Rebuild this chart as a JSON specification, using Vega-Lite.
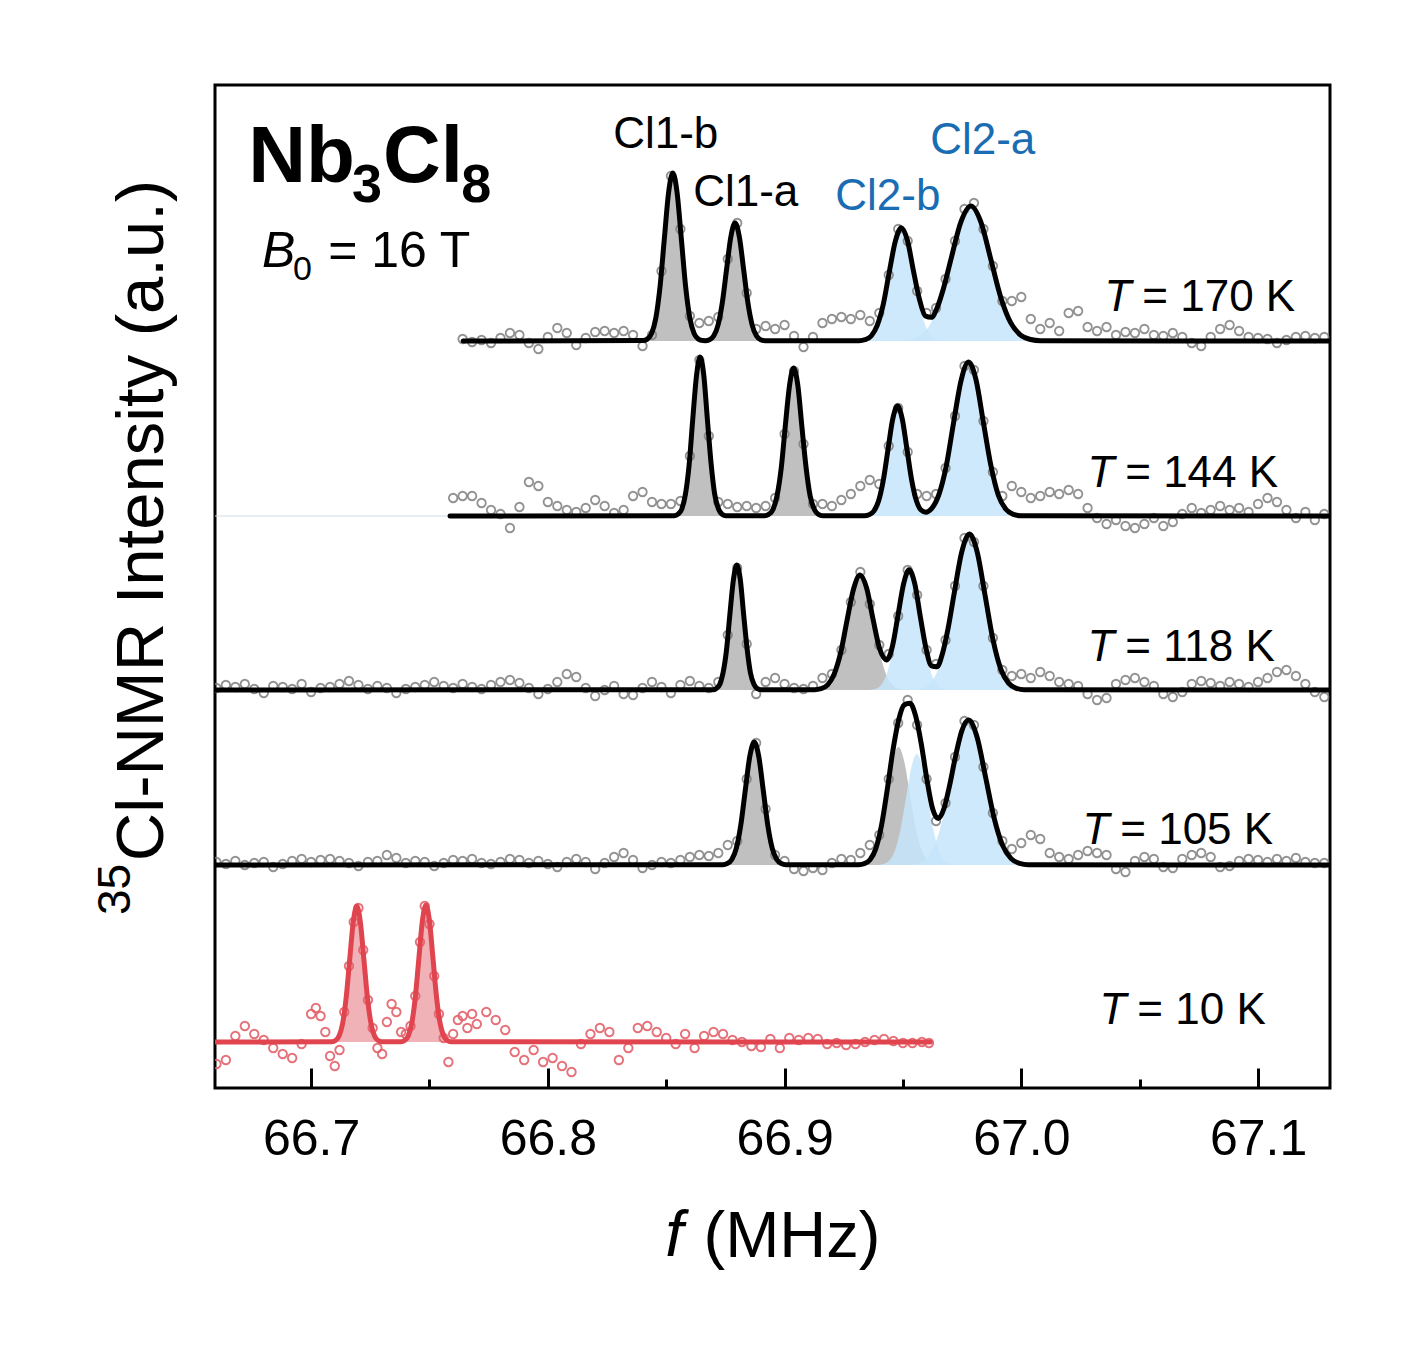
{
"$schema":"https://vega.github.io/schema/vega-lite/v6.json",
"width":1115,"height":1003,
"autosize":{"type":"none"},
"padding":{"left":215,"top":85,"right":87,"bottom":268},
"background":"white",
"config":{"view":{"stroke":"black","strokeWidth":3},"font":"Liberation Sans","axis":{"labelFont":"Liberation Sans","titleFont":"Liberation Sans"}},
"datasets":{
"comp":[
{"i":"170b1","k":"g","b":747,"f":66.8402,"y":747.4},{"i":"170b1","k":"g","b":747,"f":66.842,"y":748.9},{"i":"170b1","k":"g","b":747,"f":66.8438,"y":754.4},{"i":"170b1","k":"g","b":747,"f":66.8456,"y":769.7},{"i":"170b1","k":"g","b":747,"f":66.8474,"y":801.5},{"i":"170b1","k":"g","b":747,"f":66.8492,"y":848.9},{"i":"170b1","k":"g","b":747,"f":66.851,"y":895.3},{"i":"170b1","k":"g","b":747,"f":66.8528,"y":915},{"i":"170b1","k":"g","b":747,"f":66.8546,"y":895.3},{"i":"170b1","k":"g","b":747,"f":66.8564,"y":848.9},{"i":"170b1","k":"g","b":747,"f":66.8582,"y":801.5},{"i":"170b1","k":"g","b":747,"f":66.86,"y":769.7},{"i":"170b1","k":"g","b":747,"f":66.8618,"y":754.4},{"i":"170b1","k":"g","b":747,"f":66.8636,"y":748.9},{"i":"170b1","k":"g","b":747,"f":66.8654,"y":747.4},
{"i":"170a1","k":"g","b":747,"f":66.8665,"y":747.3},{"i":"170a1","k":"g","b":747,"f":66.8683,"y":748.3},{"i":"170a1","k":"g","b":747,"f":66.8701,"y":752.2},{"i":"170a1","k":"g","b":747,"f":66.8719,"y":763},{"i":"170a1","k":"g","b":747,"f":66.8737,"y":785.3},{"i":"170a1","k":"g","b":747,"f":66.8755,"y":818.6},{"i":"170a1","k":"g","b":747,"f":66.8773,"y":851.1},{"i":"170a1","k":"g","b":747,"f":66.8791,"y":865},{"i":"170a1","k":"g","b":747,"f":66.8809,"y":851.1},{"i":"170a1","k":"g","b":747,"f":66.8827,"y":818.6},{"i":"170a1","k":"g","b":747,"f":66.8845,"y":785.3},{"i":"170a1","k":"g","b":747,"f":66.8863,"y":763},{"i":"170a1","k":"g","b":747,"f":66.8881,"y":752.2},{"i":"170a1","k":"g","b":747,"f":66.8899,"y":748.3},{"i":"170a1","k":"g","b":747,"f":66.8917,"y":747.3},
{"i":"170b2","k":"b","b":747,"f":66.9315,"y":747.3},{"i":"170b2","k":"b","b":747,"f":66.934,"y":748.3},{"i":"170b2","k":"b","b":747,"f":66.9366,"y":752},{"i":"170b2","k":"b","b":747,"f":66.9391,"y":762.3},{"i":"170b2","k":"b","b":747,"f":66.9417,"y":783.7},{"i":"170b2","k":"b","b":747,"f":66.9442,"y":815.5},{"i":"170b2","k":"b","b":747,"f":66.9468,"y":846.7},{"i":"170b2","k":"b","b":747,"f":66.9493,"y":860},{"i":"170b2","k":"b","b":747,"f":66.9519,"y":846.7},{"i":"170b2","k":"b","b":747,"f":66.9544,"y":815.5},{"i":"170b2","k":"b","b":747,"f":66.957,"y":783.7},{"i":"170b2","k":"b","b":747,"f":66.9595,"y":762.3},{"i":"170b2","k":"b","b":747,"f":66.9621,"y":752},{"i":"170b2","k":"b","b":747,"f":66.9646,"y":748.3},{"i":"170b2","k":"b","b":747,"f":66.9672,"y":747.3},
{"i":"170a2","k":"b","b":747,"f":66.9493,"y":747.3},{"i":"170a2","k":"b","b":747,"f":66.9535,"y":748.5},{"i":"170a2","k":"b","b":747,"f":66.9577,"y":752.9},{"i":"170a2","k":"b","b":747,"f":66.9619,"y":765.3},{"i":"170a2","k":"b","b":747,"f":66.9661,"y":790.8},{"i":"170a2","k":"b","b":747,"f":66.9703,"y":828.9},{"i":"170a2","k":"b","b":747,"f":66.9745,"y":866.1},{"i":"170a2","k":"b","b":747,"f":66.9787,"y":882},{"i":"170a2","k":"b","b":747,"f":66.9829,"y":866.1},{"i":"170a2","k":"b","b":747,"f":66.9871,"y":828.9},{"i":"170a2","k":"b","b":747,"f":66.9913,"y":790.8},{"i":"170a2","k":"b","b":747,"f":66.9955,"y":765.3},{"i":"170a2","k":"b","b":747,"f":66.9997,"y":752.9},{"i":"170a2","k":"b","b":747,"f":67.0039,"y":748.5},{"i":"170a2","k":"b","b":747,"f":67.0081,"y":747.3},
{"i":"144b1","k":"g","b":572,"f":66.8535,"y":572.3},{"i":"144b1","k":"g","b":572,"f":66.855,"y":573.8},{"i":"144b1","k":"g","b":572,"f":66.8566,"y":579},{"i":"144b1","k":"g","b":572,"f":66.8581,"y":593.5},{"i":"144b1","k":"g","b":572,"f":66.8597,"y":623.6},{"i":"144b1","k":"g","b":572,"f":66.8612,"y":668.4},{"i":"144b1","k":"g","b":572,"f":66.8628,"y":712.3},{"i":"144b1","k":"g","b":572,"f":66.8643,"y":731},{"i":"144b1","k":"g","b":572,"f":66.8659,"y":712.3},{"i":"144b1","k":"g","b":572,"f":66.8674,"y":668.4},{"i":"144b1","k":"g","b":572,"f":66.869,"y":623.6},{"i":"144b1","k":"g","b":572,"f":66.8705,"y":593.5},{"i":"144b1","k":"g","b":572,"f":66.8721,"y":579},{"i":"144b1","k":"g","b":572,"f":66.8736,"y":573.8},{"i":"144b1","k":"g","b":572,"f":66.8752,"y":572.3},
{"i":"144a1","k":"g","b":572,"f":66.8916,"y":572.3},{"i":"144a1","k":"g","b":572,"f":66.8933,"y":573.6},{"i":"144a1","k":"g","b":572,"f":66.8951,"y":578.5},{"i":"144a1","k":"g","b":572,"f":66.8968,"y":592},{"i":"144a1","k":"g","b":572,"f":66.8986,"y":620.1},{"i":"144a1","k":"g","b":572,"f":66.9003,"y":661.8},{"i":"144a1","k":"g","b":572,"f":66.9021,"y":702.6},{"i":"144a1","k":"g","b":572,"f":66.9038,"y":720},{"i":"144a1","k":"g","b":572,"f":66.9056,"y":702.6},{"i":"144a1","k":"g","b":572,"f":66.9073,"y":661.8},{"i":"144a1","k":"g","b":572,"f":66.9091,"y":620.1},{"i":"144a1","k":"g","b":572,"f":66.9108,"y":592},{"i":"144a1","k":"g","b":572,"f":66.9126,"y":578.5},{"i":"144a1","k":"g","b":572,"f":66.9143,"y":573.6},{"i":"144a1","k":"g","b":572,"f":66.9161,"y":572.3},
{"i":"144b2","k":"b","b":572,"f":66.9337,"y":572.2},{"i":"144b2","k":"b","b":572,"f":66.9357,"y":573.2},{"i":"144b2","k":"b","b":572,"f":66.9377,"y":576.8},{"i":"144b2","k":"b","b":572,"f":66.9397,"y":586.9},{"i":"144b2","k":"b","b":572,"f":66.9417,"y":607.7},{"i":"144b2","k":"b","b":572,"f":66.9437,"y":638.7},{"i":"144b2","k":"b","b":572,"f":66.9457,"y":669.1},{"i":"144b2","k":"b","b":572,"f":66.9477,"y":682},{"i":"144b2","k":"b","b":572,"f":66.9497,"y":669.1},{"i":"144b2","k":"b","b":572,"f":66.9517,"y":638.7},{"i":"144b2","k":"b","b":572,"f":66.9537,"y":607.7},{"i":"144b2","k":"b","b":572,"f":66.9557,"y":586.9},{"i":"144b2","k":"b","b":572,"f":66.9577,"y":576.8},{"i":"144b2","k":"b","b":572,"f":66.9597,"y":573.2},{"i":"144b2","k":"b","b":572,"f":66.9617,"y":572.2},
{"i":"144a2","k":"b","b":572,"f":66.9557,"y":572.3},{"i":"144a2","k":"b","b":572,"f":66.9588,"y":573.7},{"i":"144a2","k":"b","b":572,"f":66.962,"y":578.8},{"i":"144a2","k":"b","b":572,"f":66.9651,"y":592.8},{"i":"144a2","k":"b","b":572,"f":66.9683,"y":622},{"i":"144a2","k":"b","b":572,"f":66.9714,"y":665.4},{"i":"144a2","k":"b","b":572,"f":66.9746,"y":707.9},{"i":"144a2","k":"b","b":572,"f":66.9777,"y":726},{"i":"144a2","k":"b","b":572,"f":66.9809,"y":707.9},{"i":"144a2","k":"b","b":572,"f":66.984,"y":665.4},{"i":"144a2","k":"b","b":572,"f":66.9872,"y":622},{"i":"144a2","k":"b","b":572,"f":66.9903,"y":592.8},{"i":"144a2","k":"b","b":572,"f":66.9935,"y":578.8},{"i":"144a2","k":"b","b":572,"f":66.9966,"y":573.7},{"i":"144a2","k":"b","b":572,"f":66.9998,"y":572.3},
{"i":"118b1","k":"g","b":398,"f":66.8697,"y":398.3},{"i":"118b1","k":"g","b":398,"f":66.8711,"y":399.4},{"i":"118b1","k":"g","b":398,"f":66.8726,"y":403.5},{"i":"118b1","k":"g","b":398,"f":66.874,"y":414.9},{"i":"118b1","k":"g","b":398,"f":66.8755,"y":438.6},{"i":"118b1","k":"g","b":398,"f":66.8769,"y":473.8},{"i":"118b1","k":"g","b":398,"f":66.8784,"y":508.3},{"i":"118b1","k":"g","b":398,"f":66.8798,"y":523},{"i":"118b1","k":"g","b":398,"f":66.8813,"y":508.3},{"i":"118b1","k":"g","b":398,"f":66.8827,"y":473.8},{"i":"118b1","k":"g","b":398,"f":66.8842,"y":438.6},{"i":"118b1","k":"g","b":398,"f":66.8856,"y":414.9},{"i":"118b1","k":"g","b":398,"f":66.8871,"y":403.5},{"i":"118b1","k":"g","b":398,"f":66.8885,"y":399.4},{"i":"118b1","k":"g","b":398,"f":66.89,"y":398.3},
{"i":"118a1","k":"g","b":398,"f":66.9127,"y":398.3},{"i":"118a1","k":"g","b":398,"f":66.9154,"y":399.3},{"i":"118a1","k":"g","b":398,"f":66.9182,"y":403.1},{"i":"118a1","k":"g","b":398,"f":66.9209,"y":413.6},{"i":"118a1","k":"g","b":398,"f":66.9237,"y":435.3},{"i":"118a1","k":"g","b":398,"f":66.9264,"y":467.8},{"i":"118a1","k":"g","b":398,"f":66.9292,"y":499.5},{"i":"118a1","k":"g","b":398,"f":66.9319,"y":513},{"i":"118a1","k":"g","b":398,"f":66.9347,"y":499.5},{"i":"118a1","k":"g","b":398,"f":66.9374,"y":467.8},{"i":"118a1","k":"g","b":398,"f":66.9402,"y":435.3},{"i":"118a1","k":"g","b":398,"f":66.9429,"y":413.6},{"i":"118a1","k":"g","b":398,"f":66.9457,"y":403.1},{"i":"118a1","k":"g","b":398,"f":66.9484,"y":399.3},{"i":"118a1","k":"g","b":398,"f":66.9512,"y":398.3},
{"i":"118b2","k":"b","b":398,"f":66.9362,"y":398.3},{"i":"118b2","k":"b","b":398,"f":66.9385,"y":399.3},{"i":"118b2","k":"b","b":398,"f":66.9409,"y":403.3},{"i":"118b2","k":"b","b":398,"f":66.9432,"y":414.2},{"i":"118b2","k":"b","b":398,"f":66.9456,"y":437},{"i":"118b2","k":"b","b":398,"f":66.9479,"y":470.8},{"i":"118b2","k":"b","b":398,"f":66.9503,"y":503.9},{"i":"118b2","k":"b","b":398,"f":66.9526,"y":518},{"i":"118b2","k":"b","b":398,"f":66.955,"y":503.9},{"i":"118b2","k":"b","b":398,"f":66.9573,"y":470.8},{"i":"118b2","k":"b","b":398,"f":66.9597,"y":437},{"i":"118b2","k":"b","b":398,"f":66.962,"y":414.2},{"i":"118b2","k":"b","b":398,"f":66.9644,"y":403.3},{"i":"118b2","k":"b","b":398,"f":66.9667,"y":399.3},{"i":"118b2","k":"b","b":398,"f":66.9691,"y":398.3},
{"i":"118a2","k":"b","b":398,"f":66.955,"y":398.3},{"i":"118a2","k":"b","b":398,"f":66.9583,"y":399.7},{"i":"118a2","k":"b","b":398,"f":66.9616,"y":404.9},{"i":"118a2","k":"b","b":398,"f":66.9649,"y":419.1},{"i":"118a2","k":"b","b":398,"f":66.9682,"y":448.7},{"i":"118a2","k":"b","b":398,"f":66.9715,"y":492.6},{"i":"118a2","k":"b","b":398,"f":66.9748,"y":535.7},{"i":"118a2","k":"b","b":398,"f":66.9781,"y":554},{"i":"118a2","k":"b","b":398,"f":66.9814,"y":535.7},{"i":"118a2","k":"b","b":398,"f":66.9847,"y":492.6},{"i":"118a2","k":"b","b":398,"f":66.988,"y":448.7},{"i":"118a2","k":"b","b":398,"f":66.9913,"y":419.1},{"i":"118a2","k":"b","b":398,"f":66.9946,"y":404.9},{"i":"118a2","k":"b","b":398,"f":66.9979,"y":399.7},{"i":"118a2","k":"b","b":398,"f":67.0012,"y":398.3},
{"i":"105c1","k":"g","b":223,"f":66.8739,"y":223.3},{"i":"105c1","k":"g","b":223,"f":66.8758,"y":224.4},{"i":"105c1","k":"g","b":223,"f":66.8777,"y":228.4},{"i":"105c1","k":"g","b":223,"f":66.8796,"y":239.6},{"i":"105c1","k":"g","b":223,"f":66.8815,"y":262.9},{"i":"105c1","k":"g","b":223,"f":66.8834,"y":297.6},{"i":"105c1","k":"g","b":223,"f":66.8853,"y":331.5},{"i":"105c1","k":"g","b":223,"f":66.8872,"y":346},{"i":"105c1","k":"g","b":223,"f":66.8891,"y":331.5},{"i":"105c1","k":"g","b":223,"f":66.891,"y":297.6},{"i":"105c1","k":"g","b":223,"f":66.8929,"y":262.9},{"i":"105c1","k":"g","b":223,"f":66.8948,"y":239.6},{"i":"105c1","k":"g","b":223,"f":66.8967,"y":228.4},{"i":"105c1","k":"g","b":223,"f":66.8986,"y":224.4},{"i":"105c1","k":"g","b":223,"f":66.9005,"y":223.3},
{"i":"105g","k":"g","b":223,"f":66.9313,"y":223.3},{"i":"105g","k":"g","b":223,"f":66.9337,"y":224.3},{"i":"105g","k":"g","b":223,"f":66.9361,"y":228.2},{"i":"105g","k":"g","b":223,"f":66.9385,"y":239},{"i":"105g","k":"g","b":223,"f":66.9409,"y":261.3},{"i":"105g","k":"g","b":223,"f":66.9433,"y":294.6},{"i":"105g","k":"g","b":223,"f":66.9457,"y":327.1},{"i":"105g","k":"g","b":223,"f":66.9481,"y":341},{"i":"105g","k":"g","b":223,"f":66.9505,"y":327.1},{"i":"105g","k":"g","b":223,"f":66.9529,"y":294.6},{"i":"105g","k":"g","b":223,"f":66.9553,"y":261.3},{"i":"105g","k":"g","b":223,"f":66.9577,"y":239},{"i":"105g","k":"g","b":223,"f":66.9601,"y":228.2},{"i":"105g","k":"g","b":223,"f":66.9625,"y":224.3},{"i":"105g","k":"g","b":223,"f":66.9649,"y":223.3},
{"i":"105b","k":"b","b":223,"f":66.9398,"y":223.2},{"i":"105b","k":"b","b":223,"f":66.9421,"y":224.2},{"i":"105b","k":"b","b":223,"f":66.9444,"y":227.9},{"i":"105b","k":"b","b":223,"f":66.9467,"y":238},{"i":"105b","k":"b","b":223,"f":66.949,"y":259},{"i":"105b","k":"b","b":223,"f":66.9513,"y":290.3},{"i":"105b","k":"b","b":223,"f":66.9536,"y":321},{"i":"105b","k":"b","b":223,"f":66.9559,"y":334},{"i":"105b","k":"b","b":223,"f":66.9582,"y":321},{"i":"105b","k":"b","b":223,"f":66.9605,"y":290.3},{"i":"105b","k":"b","b":223,"f":66.9628,"y":259},{"i":"105b","k":"b","b":223,"f":66.9651,"y":238},{"i":"105b","k":"b","b":223,"f":66.9674,"y":227.9},{"i":"105b","k":"b","b":223,"f":66.9697,"y":224.2},{"i":"105b","k":"b","b":223,"f":66.972,"y":223.2},
{"i":"105a","k":"b","b":223,"f":66.9525,"y":223.3},{"i":"105a","k":"b","b":223,"f":66.9561,"y":224.6},{"i":"105a","k":"b","b":223,"f":66.9597,"y":229.4},{"i":"105a","k":"b","b":223,"f":66.9633,"y":242.6},{"i":"105a","k":"b","b":223,"f":66.9669,"y":270.1},{"i":"105a","k":"b","b":223,"f":66.9705,"y":310.9},{"i":"105a","k":"b","b":223,"f":66.9741,"y":351},{"i":"105a","k":"b","b":223,"f":66.9777,"y":368},{"i":"105a","k":"b","b":223,"f":66.9813,"y":351},{"i":"105a","k":"b","b":223,"f":66.9849,"y":310.9},{"i":"105a","k":"b","b":223,"f":66.9885,"y":270.1},{"i":"105a","k":"b","b":223,"f":66.9921,"y":242.6},{"i":"105a","k":"b","b":223,"f":66.9957,"y":229.4},{"i":"105a","k":"b","b":223,"f":66.9993,"y":224.6},{"i":"105a","k":"b","b":223,"f":67.0029,"y":223.3},
{"i":"10p1","k":"r","b":46,"f":66.7088,"y":46.3},{"i":"10p1","k":"r","b":46,"f":66.7103,"y":47.5},{"i":"10p1","k":"r","b":46,"f":66.7118,"y":52},{"i":"10p1","k":"r","b":46,"f":66.7133,"y":64.4},{"i":"10p1","k":"r","b":46,"f":66.7148,"y":90.2},{"i":"10p1","k":"r","b":46,"f":66.7163,"y":128.5},{"i":"10p1","k":"r","b":46,"f":66.7178,"y":166},{"i":"10p1","k":"r","b":46,"f":66.7193,"y":182},{"i":"10p1","k":"r","b":46,"f":66.7208,"y":166},{"i":"10p1","k":"r","b":46,"f":66.7223,"y":128.5},{"i":"10p1","k":"r","b":46,"f":66.7238,"y":90.2},{"i":"10p1","k":"r","b":46,"f":66.7253,"y":64.4},{"i":"10p1","k":"r","b":46,"f":66.7268,"y":52},{"i":"10p1","k":"r","b":46,"f":66.7283,"y":47.5},{"i":"10p1","k":"r","b":46,"f":66.7298,"y":46.3},
{"i":"10p2","k":"r","b":46,"f":66.738,"y":46.3},{"i":"10p2","k":"r","b":46,"f":66.7395,"y":47.5},{"i":"10p2","k":"r","b":46,"f":66.741,"y":52},{"i":"10p2","k":"r","b":46,"f":66.7425,"y":64.5},{"i":"10p2","k":"r","b":46,"f":66.744,"y":90.5},{"i":"10p2","k":"r","b":46,"f":66.7455,"y":129.1},{"i":"10p2","k":"r","b":46,"f":66.747,"y":166.9},{"i":"10p2","k":"r","b":46,"f":66.7485,"y":183},{"i":"10p2","k":"r","b":46,"f":66.75,"y":166.9},{"i":"10p2","k":"r","b":46,"f":66.7515,"y":129.1},{"i":"10p2","k":"r","b":46,"f":66.753,"y":90.5},{"i":"10p2","k":"r","b":46,"f":66.7545,"y":64.5},{"i":"10p2","k":"r","b":46,"f":66.756,"y":52},{"i":"10p2","k":"r","b":46,"f":66.7575,"y":47.5},{"i":"10p2","k":"r","b":46,"f":66.759,"y":46.3}
],
"pg":[
{"s":"170","f":66.764,"y":749},{"s":"170","f":66.768,"y":746},{"s":"170","f":66.772,"y":748},{"s":"170","f":66.776,"y":745},{"s":"170","f":66.78,"y":750},{"s":"170","f":66.784,"y":755},{"s":"170","f":66.788,"y":753},{"s":"170","f":66.792,"y":745},{"s":"170","f":66.796,"y":739},{"s":"170","f":66.8,"y":751},{"s":"170","f":66.804,"y":760},{"s":"170","f":66.808,"y":755},{"s":"170","f":66.812,"y":743},{"s":"170","f":66.816,"y":750},{"s":"170","f":66.82,"y":756},{"s":"170","f":66.824,"y":757},{"s":"170","f":66.828,"y":755},{"s":"170","f":66.832,"y":757},{"s":"170","f":66.836,"y":753},{"s":"170","f":66.84,"y":742},{"s":"170","f":66.844,"y":753},{"s":"170","f":66.848,"y":817},{"s":"170","f":66.852,"y":912},{"s":"170","f":66.856,"y":859},{"s":"170","f":66.86,"y":772},{"s":"170","f":66.864,"y":765},{"s":"170","f":66.868,"y":767},{"s":"170","f":66.872,"y":771},{"s":"170","f":66.876,"y":829},{"s":"170","f":66.88,"y":865},{"s":"170","f":66.884,"y":795},{"s":"170","f":66.888,"y":759},{"s":"170","f":66.892,"y":762},{"s":"170","f":66.896,"y":759},{"s":"170","f":66.9,"y":763},{"s":"170","f":66.904,"y":752},{"s":"170","f":66.908,"y":741},{"s":"170","f":66.912,"y":751},{"s":"170","f":66.916,"y":765},{"s":"170","f":66.92,"y":769},{"s":"170","f":66.924,"y":771},{"s":"170","f":66.928,"y":769},{"s":"170","f":66.932,"y":773},{"s":"170","f":66.936,"y":767},{"s":"170","f":66.94,"y":775},{"s":"170","f":66.944,"y":813},{"s":"170","f":66.948,"y":859},{"s":"170","f":66.952,"y":847},{"s":"170","f":66.956,"y":797},{"s":"170","f":66.96,"y":775},{"s":"170","f":66.964,"y":780},{"s":"170","f":66.968,"y":809},{"s":"170","f":66.972,"y":847},{"s":"170","f":66.976,"y":879},{"s":"170","f":66.98,"y":885},{"s":"170","f":66.984,"y":859},{"s":"170","f":66.988,"y":822},{"s":"170","f":66.992,"y":787},{"s":"170","f":66.996,"y":787},{"s":"170","f":67.0,"y":791},{"s":"170","f":67.004,"y":769},{"s":"170","f":67.008,"y":759},{"s":"170","f":67.012,"y":765},{"s":"170","f":67.016,"y":757},{"s":"170","f":67.02,"y":775},{"s":"170","f":67.024,"y":777},{"s":"170","f":67.028,"y":761},{"s":"170","f":67.032,"y":757},{"s":"170","f":67.036,"y":761},{"s":"170","f":67.04,"y":753},{"s":"170","f":67.044,"y":756},{"s":"170","f":67.048,"y":755},{"s":"170","f":67.052,"y":759},{"s":"170","f":67.056,"y":753},{"s":"170","f":67.06,"y":752},{"s":"170","f":67.064,"y":755},{"s":"170","f":67.068,"y":751},{"s":"170","f":67.072,"y":745},{"s":"170","f":67.076,"y":742},{"s":"170","f":67.08,"y":751},{"s":"170","f":67.084,"y":759},{"s":"170","f":67.088,"y":763},{"s":"170","f":67.092,"y":757},{"s":"170","f":67.096,"y":751},{"s":"170","f":67.1,"y":750},{"s":"170","f":67.104,"y":749},{"s":"170","f":67.108,"y":745},{"s":"170","f":67.112,"y":748},{"s":"170","f":67.116,"y":751},{"s":"170","f":67.12,"y":752},{"s":"170","f":67.124,"y":750},{"s":"170","f":67.128,"y":751},
{"s":"144","f":66.76,"y":590},{"s":"144","f":66.764,"y":592},{"s":"144","f":66.768,"y":592},{"s":"144","f":66.772,"y":585},{"s":"144","f":66.776,"y":578},{"s":"144","f":66.78,"y":574},{"s":"144","f":66.784,"y":560},{"s":"144","f":66.788,"y":581},{"s":"144","f":66.792,"y":606},{"s":"144","f":66.796,"y":602},{"s":"144","f":66.8,"y":586},{"s":"144","f":66.804,"y":582},{"s":"144","f":66.808,"y":578},{"s":"144","f":66.812,"y":576},{"s":"144","f":66.816,"y":580},{"s":"144","f":66.82,"y":588},{"s":"144","f":66.824,"y":582},{"s":"144","f":66.828,"y":575},{"s":"144","f":66.832,"y":578},{"s":"144","f":66.836,"y":592},{"s":"144","f":66.84,"y":596},{"s":"144","f":66.844,"y":586},{"s":"144","f":66.848,"y":584},{"s":"144","f":66.852,"y":584},{"s":"144","f":66.856,"y":587},{"s":"144","f":66.86,"y":632},{"s":"144","f":66.864,"y":728},{"s":"144","f":66.868,"y":652},{"s":"144","f":66.872,"y":586},{"s":"144","f":66.876,"y":584},{"s":"144","f":66.88,"y":581},{"s":"144","f":66.884,"y":582},{"s":"144","f":66.888,"y":580},{"s":"144","f":66.892,"y":582},{"s":"144","f":66.896,"y":590},{"s":"144","f":66.9,"y":654},{"s":"144","f":66.904,"y":717},{"s":"144","f":66.908,"y":644},{"s":"144","f":66.912,"y":584},{"s":"144","f":66.916,"y":584},{"s":"144","f":66.92,"y":582},{"s":"144","f":66.924,"y":588},{"s":"144","f":66.928,"y":594},{"s":"144","f":66.932,"y":602},{"s":"144","f":66.936,"y":608},{"s":"144","f":66.94,"y":604},{"s":"144","f":66.944,"y":642},{"s":"144","f":66.948,"y":680},{"s":"144","f":66.952,"y":636},{"s":"144","f":66.956,"y":594},{"s":"144","f":66.96,"y":592},{"s":"144","f":66.964,"y":594},{"s":"144","f":66.968,"y":620},{"s":"144","f":66.972,"y":672},{"s":"144","f":66.976,"y":722},{"s":"144","f":66.98,"y":718},{"s":"144","f":66.984,"y":667},{"s":"144","f":66.988,"y":616},{"s":"144","f":66.992,"y":592},{"s":"144","f":66.996,"y":602},{"s":"144","f":67.0,"y":596},{"s":"144","f":67.004,"y":590},{"s":"144","f":67.008,"y":592},{"s":"144","f":67.012,"y":596},{"s":"144","f":67.016,"y":594},{"s":"144","f":67.02,"y":598},{"s":"144","f":67.024,"y":594},{"s":"144","f":67.028,"y":580},{"s":"144","f":67.032,"y":570},{"s":"144","f":67.036,"y":564},{"s":"144","f":67.04,"y":568},{"s":"144","f":67.044,"y":562},{"s":"144","f":67.048,"y":560},{"s":"144","f":67.052,"y":564},{"s":"144","f":67.056,"y":570},{"s":"144","f":67.06,"y":562},{"s":"144","f":67.064,"y":566},{"s":"144","f":67.068,"y":574},{"s":"144","f":67.072,"y":580},{"s":"144","f":67.076,"y":575},{"s":"144","f":67.08,"y":578},{"s":"144","f":67.084,"y":582},{"s":"144","f":67.088,"y":578},{"s":"144","f":67.092,"y":580},{"s":"144","f":67.096,"y":576},{"s":"144","f":67.1,"y":584},{"s":"144","f":67.104,"y":590},{"s":"144","f":67.108,"y":586},{"s":"144","f":67.112,"y":578},{"s":"144","f":67.116,"y":570},{"s":"144","f":67.12,"y":576},{"s":"144","f":67.124,"y":568},{"s":"144","f":67.128,"y":574},
{"s":"118","f":66.66,"y":400},{"s":"118","f":66.664,"y":403},{"s":"118","f":66.668,"y":401},{"s":"118","f":66.672,"y":404},{"s":"118","f":66.676,"y":399},{"s":"118","f":66.68,"y":395},{"s":"118","f":66.684,"y":402},{"s":"118","f":66.688,"y":401},{"s":"118","f":66.692,"y":399},{"s":"118","f":66.696,"y":404},{"s":"118","f":66.7,"y":396},{"s":"118","f":66.704,"y":400},{"s":"118","f":66.708,"y":401},{"s":"118","f":66.712,"y":404},{"s":"118","f":66.716,"y":407},{"s":"118","f":66.72,"y":403},{"s":"118","f":66.724,"y":399},{"s":"118","f":66.728,"y":402},{"s":"118","f":66.732,"y":400},{"s":"118","f":66.736,"y":395},{"s":"118","f":66.74,"y":399},{"s":"118","f":66.744,"y":401},{"s":"118","f":66.748,"y":403},{"s":"118","f":66.752,"y":406},{"s":"118","f":66.756,"y":402},{"s":"118","f":66.76,"y":400},{"s":"118","f":66.764,"y":404},{"s":"118","f":66.768,"y":401},{"s":"118","f":66.772,"y":399},{"s":"118","f":66.776,"y":403},{"s":"118","f":66.78,"y":406},{"s":"118","f":66.784,"y":408},{"s":"118","f":66.788,"y":405},{"s":"118","f":66.792,"y":400},{"s":"118","f":66.796,"y":394},{"s":"118","f":66.8,"y":399},{"s":"118","f":66.804,"y":406},{"s":"118","f":66.808,"y":414},{"s":"118","f":66.812,"y":411},{"s":"118","f":66.816,"y":400},{"s":"118","f":66.82,"y":392},{"s":"118","f":66.824,"y":398},{"s":"118","f":66.828,"y":402},{"s":"118","f":66.832,"y":394},{"s":"118","f":66.836,"y":393},{"s":"118","f":66.84,"y":400},{"s":"118","f":66.844,"y":406},{"s":"118","f":66.848,"y":401},{"s":"118","f":66.852,"y":395},{"s":"118","f":66.856,"y":403},{"s":"118","f":66.86,"y":407},{"s":"118","f":66.864,"y":402},{"s":"118","f":66.868,"y":400},{"s":"118","f":66.872,"y":406},{"s":"118","f":66.876,"y":453},{"s":"118","f":66.88,"y":520},{"s":"118","f":66.884,"y":444},{"s":"118","f":66.888,"y":394},{"s":"118","f":66.892,"y":406},{"s":"118","f":66.896,"y":410},{"s":"118","f":66.9,"y":404},{"s":"118","f":66.904,"y":400},{"s":"118","f":66.908,"y":399},{"s":"118","f":66.912,"y":402},{"s":"118","f":66.916,"y":410},{"s":"118","f":66.92,"y":414},{"s":"118","f":66.924,"y":438},{"s":"118","f":66.928,"y":486},{"s":"118","f":66.932,"y":516},{"s":"118","f":66.936,"y":484},{"s":"118","f":66.94,"y":443},{"s":"118","f":66.944,"y":434},{"s":"118","f":66.948,"y":472},{"s":"118","f":66.952,"y":518},{"s":"118","f":66.956,"y":493},{"s":"118","f":66.96,"y":438},{"s":"118","f":66.964,"y":424},{"s":"118","f":66.968,"y":448},{"s":"118","f":66.972,"y":502},{"s":"118","f":66.976,"y":550},{"s":"118","f":66.98,"y":546},{"s":"118","f":66.984,"y":502},{"s":"118","f":66.988,"y":450},{"s":"118","f":66.992,"y":418},{"s":"118","f":66.996,"y":412},{"s":"118","f":67.0,"y":414},{"s":"118","f":67.004,"y":410},{"s":"118","f":67.008,"y":416},{"s":"118","f":67.012,"y":412},{"s":"118","f":67.016,"y":406},{"s":"118","f":67.02,"y":404},{"s":"118","f":67.024,"y":402},{"s":"118","f":67.028,"y":394},{"s":"118","f":67.032,"y":388},{"s":"118","f":67.036,"y":390},{"s":"118","f":67.04,"y":404},{"s":"118","f":67.044,"y":408},{"s":"118","f":67.048,"y":410},{"s":"118","f":67.052,"y":406},{"s":"118","f":67.056,"y":402},{"s":"118","f":67.06,"y":394},{"s":"118","f":67.064,"y":391},{"s":"118","f":67.068,"y":396},{"s":"118","f":67.072,"y":404},{"s":"118","f":67.076,"y":407},{"s":"118","f":67.08,"y":405},{"s":"118","f":67.084,"y":402},{"s":"118","f":67.088,"y":406},{"s":"118","f":67.092,"y":404},{"s":"118","f":67.096,"y":401},{"s":"118","f":67.1,"y":406},{"s":"118","f":67.104,"y":410},{"s":"118","f":67.108,"y":416},{"s":"118","f":67.112,"y":418},{"s":"118","f":67.116,"y":412},{"s":"118","f":67.12,"y":404},{"s":"118","f":67.124,"y":396},{"s":"118","f":67.128,"y":391},
{"s":"105","f":66.66,"y":226},{"s":"105","f":66.664,"y":224},{"s":"105","f":66.668,"y":227},{"s":"105","f":66.672,"y":223},{"s":"105","f":66.676,"y":225},{"s":"105","f":66.68,"y":226},{"s":"105","f":66.684,"y":221},{"s":"105","f":66.688,"y":224},{"s":"105","f":66.692,"y":227},{"s":"105","f":66.696,"y":229},{"s":"105","f":66.7,"y":226},{"s":"105","f":66.704,"y":228},{"s":"105","f":66.708,"y":229},{"s":"105","f":66.712,"y":227},{"s":"105","f":66.716,"y":225},{"s":"105","f":66.72,"y":222},{"s":"105","f":66.724,"y":226},{"s":"105","f":66.728,"y":227},{"s":"105","f":66.732,"y":233},{"s":"105","f":66.736,"y":230},{"s":"105","f":66.74,"y":225},{"s":"105","f":66.744,"y":227},{"s":"105","f":66.748,"y":226},{"s":"105","f":66.752,"y":222},{"s":"105","f":66.756,"y":225},{"s":"105","f":66.76,"y":228},{"s":"105","f":66.764,"y":227},{"s":"105","f":66.768,"y":229},{"s":"105","f":66.772,"y":225},{"s":"105","f":66.776,"y":224},{"s":"105","f":66.78,"y":226},{"s":"105","f":66.784,"y":229},{"s":"105","f":66.788,"y":228},{"s":"105","f":66.792,"y":225},{"s":"105","f":66.796,"y":227},{"s":"105","f":66.8,"y":224},{"s":"105","f":66.804,"y":221},{"s":"105","f":66.808,"y":226},{"s":"105","f":66.812,"y":229},{"s":"105","f":66.816,"y":226},{"s":"105","f":66.82,"y":219},{"s":"105","f":66.824,"y":225},{"s":"105","f":66.828,"y":231},{"s":"105","f":66.832,"y":235},{"s":"105","f":66.836,"y":228},{"s":"105","f":66.84,"y":220},{"s":"105","f":66.844,"y":223},{"s":"105","f":66.848,"y":226},{"s":"105","f":66.852,"y":225},{"s":"105","f":66.856,"y":228},{"s":"105","f":66.86,"y":231},{"s":"105","f":66.864,"y":233},{"s":"105","f":66.868,"y":232},{"s":"105","f":66.872,"y":235},{"s":"105","f":66.876,"y":243},{"s":"105","f":66.88,"y":247},{"s":"105","f":66.884,"y":309},{"s":"105","f":66.888,"y":345},{"s":"105","f":66.892,"y":279},{"s":"105","f":66.896,"y":233},{"s":"105","f":66.9,"y":227},{"s":"105","f":66.904,"y":219},{"s":"105","f":66.908,"y":217},{"s":"105","f":66.912,"y":220},{"s":"105","f":66.916,"y":218},{"s":"105","f":66.92,"y":225},{"s":"105","f":66.924,"y":229},{"s":"105","f":66.928,"y":228},{"s":"105","f":66.932,"y":235},{"s":"105","f":66.936,"y":243},{"s":"105","f":66.94,"y":253},{"s":"105","f":66.944,"y":309},{"s":"105","f":66.948,"y":365},{"s":"105","f":66.952,"y":388},{"s":"105","f":66.956,"y":363},{"s":"105","f":66.96,"y":309},{"s":"105","f":66.964,"y":267},{"s":"105","f":66.968,"y":285},{"s":"105","f":66.972,"y":331},{"s":"105","f":66.976,"y":367},{"s":"105","f":66.98,"y":363},{"s":"105","f":66.984,"y":321},{"s":"105","f":66.988,"y":275},{"s":"105","f":66.992,"y":247},{"s":"105","f":66.996,"y":239},{"s":"105","f":67.0,"y":245},{"s":"105","f":67.004,"y":253},{"s":"105","f":67.008,"y":249},{"s":"105","f":67.012,"y":235},{"s":"105","f":67.016,"y":231},{"s":"105","f":67.02,"y":229},{"s":"105","f":67.024,"y":233},{"s":"105","f":67.028,"y":237},{"s":"105","f":67.032,"y":235},{"s":"105","f":67.036,"y":233},{"s":"105","f":67.04,"y":219},{"s":"105","f":67.044,"y":216},{"s":"105","f":67.048,"y":227},{"s":"105","f":67.052,"y":231},{"s":"105","f":67.056,"y":229},{"s":"105","f":67.06,"y":221},{"s":"105","f":67.064,"y":220},{"s":"105","f":67.068,"y":229},{"s":"105","f":67.072,"y":233},{"s":"105","f":67.076,"y":235},{"s":"105","f":67.08,"y":231},{"s":"105","f":67.084,"y":221},{"s":"105","f":67.088,"y":222},{"s":"105","f":67.092,"y":227},{"s":"105","f":67.096,"y":229},{"s":"105","f":67.1,"y":228},{"s":"105","f":67.104,"y":226},{"s":"105","f":67.108,"y":229},{"s":"105","f":67.112,"y":227},{"s":"105","f":67.116,"y":230},{"s":"105","f":67.12,"y":226},{"s":"105","f":67.124,"y":225},{"s":"105","f":67.128,"y":225}
],
"pr":[
{"s":"10","f":66.66,"y":24},{"s":"10","f":66.664,"y":28},{"s":"10","f":66.668,"y":52},{"s":"10","f":66.672,"y":62},{"s":"10","f":66.676,"y":54},{"s":"10","f":66.68,"y":48},{"s":"10","f":66.684,"y":40},{"s":"10","f":66.688,"y":34},{"s":"10","f":66.692,"y":30},{"s":"10","f":66.696,"y":44},{"s":"10","f":66.7,"y":74},{"s":"10","f":66.702,"y":80},{"s":"10","f":66.704,"y":72},{"s":"10","f":66.706,"y":56},{"s":"10","f":66.708,"y":32},{"s":"10","f":66.71,"y":22},{"s":"10","f":66.712,"y":38},{"s":"10","f":66.714,"y":76},{"s":"10","f":66.716,"y":122},{"s":"10","f":66.718,"y":166},{"s":"10","f":66.72,"y":180},{"s":"10","f":66.722,"y":138},{"s":"10","f":66.724,"y":88},{"s":"10","f":66.726,"y":60},{"s":"10","f":66.728,"y":40},{"s":"10","f":66.73,"y":34},{"s":"10","f":66.732,"y":66},{"s":"10","f":66.734,"y":84},{"s":"10","f":66.736,"y":76},{"s":"10","f":66.738,"y":56},{"s":"10","f":66.74,"y":54},{"s":"10","f":66.742,"y":62},{"s":"10","f":66.744,"y":92},{"s":"10","f":66.746,"y":146},{"s":"10","f":66.748,"y":182},{"s":"10","f":66.75,"y":164},{"s":"10","f":66.752,"y":112},{"s":"10","f":66.754,"y":74},{"s":"10","f":66.756,"y":50},{"s":"10","f":66.758,"y":26},{"s":"10","f":66.76,"y":54},{"s":"10","f":66.762,"y":68},{"s":"10","f":66.764,"y":72},{"s":"10","f":66.766,"y":60},{"s":"10","f":66.768,"y":74},{"s":"10","f":66.77,"y":64},{"s":"10","f":66.774,"y":76},{"s":"10","f":66.778,"y":68},{"s":"10","f":66.782,"y":58},{"s":"10","f":66.786,"y":36},{"s":"10","f":66.79,"y":28},{"s":"10","f":66.794,"y":38},{"s":"10","f":66.798,"y":26},{"s":"10","f":66.802,"y":30},{"s":"10","f":66.806,"y":22},{"s":"10","f":66.81,"y":16},{"s":"10","f":66.814,"y":44},{"s":"10","f":66.818,"y":54},{"s":"10","f":66.822,"y":60},{"s":"10","f":66.826,"y":56},{"s":"10","f":66.83,"y":28},{"s":"10","f":66.834,"y":40},{"s":"10","f":66.838,"y":60},{"s":"10","f":66.842,"y":62},{"s":"10","f":66.846,"y":56},{"s":"10","f":66.85,"y":50},{"s":"10","f":66.854,"y":44},{"s":"10","f":66.858,"y":54},{"s":"10","f":66.862,"y":40},{"s":"10","f":66.866,"y":52},{"s":"10","f":66.87,"y":56},{"s":"10","f":66.874,"y":54},{"s":"10","f":66.878,"y":48},{"s":"10","f":66.882,"y":46},{"s":"10","f":66.886,"y":42},{"s":"10","f":66.89,"y":41},{"s":"10","f":66.894,"y":49},{"s":"10","f":66.898,"y":40},{"s":"10","f":66.902,"y":50},{"s":"10","f":66.906,"y":48},{"s":"10","f":66.91,"y":50},{"s":"10","f":66.914,"y":49},{"s":"10","f":66.918,"y":44},{"s":"10","f":66.922,"y":45},{"s":"10","f":66.926,"y":43},{"s":"10","f":66.93,"y":44},{"s":"10","f":66.934,"y":46},{"s":"10","f":66.938,"y":48},{"s":"10","f":66.942,"y":49},{"s":"10","f":66.946,"y":47},{"s":"10","f":66.95,"y":45},{"s":"10","f":66.954,"y":45},{"s":"10","f":66.958,"y":46},{"s":"10","f":66.961,"y":45}
],
"fk":[
{"s":"170","f":66.7642,"y":747},{"s":"170","f":66.8402,"y":747.4},{"s":"170","f":66.842,"y":748.9},{"s":"170","f":66.8438,"y":754.4},{"s":"170","f":66.8456,"y":769.7},{"s":"170","f":66.8474,"y":801.5},{"s":"170","f":66.8492,"y":848.9},{"s":"170","f":66.851,"y":895.3},{"s":"170","f":66.8528,"y":915},{"s":"170","f":66.8546,"y":895.3},{"s":"170","f":66.8564,"y":848.9},{"s":"170","f":66.8582,"y":801.5},{"s":"170","f":66.86,"y":769.7},{"s":"170","f":66.8618,"y":754.4},{"s":"170","f":66.8636,"y":748.9},{"s":"170","f":66.8654,"y":747.4},{"s":"170","f":66.8665,"y":747.3},{"s":"170","f":66.8683,"y":748.3},{"s":"170","f":66.8701,"y":752.2},{"s":"170","f":66.8719,"y":763},{"s":"170","f":66.8737,"y":785.3},{"s":"170","f":66.8755,"y":818.6},{"s":"170","f":66.8773,"y":851.1},{"s":"170","f":66.8791,"y":865},{"s":"170","f":66.8809,"y":851.1},{"s":"170","f":66.8827,"y":818.6},{"s":"170","f":66.8845,"y":785.3},{"s":"170","f":66.8863,"y":763},{"s":"170","f":66.8881,"y":752.2},{"s":"170","f":66.8899,"y":748.3},{"s":"170","f":66.8917,"y":747.3},{"s":"170","f":66.9315,"y":747.3},{"s":"170","f":66.934,"y":748.3},{"s":"170","f":66.9366,"y":752},{"s":"170","f":66.9391,"y":762.3},{"s":"170","f":66.9417,"y":783.7},{"s":"170","f":66.9442,"y":815.6},{"s":"170","f":66.9468,"y":846.8},{"s":"170","f":66.9493,"y":860.3},{"s":"170","f":66.9519,"y":847.5},{"s":"170","f":66.9544,"y":817.6},{"s":"170","f":66.957,"y":788.5},{"s":"170","f":66.9595,"y":772.1},{"s":"170","f":66.962,"y":770.7},{"s":"170","f":66.9645,"y":780.6},{"s":"170","f":66.967,"y":798.5},{"s":"170","f":66.9703,"y":828.9},{"s":"170","f":66.9745,"y":866.1},{"s":"170","f":66.9787,"y":882},{"s":"170","f":66.9829,"y":866.1},{"s":"170","f":66.9871,"y":828.9},{"s":"170","f":66.9913,"y":790.8},{"s":"170","f":66.9955,"y":765.3},{"s":"170","f":66.9997,"y":752.9},{"s":"170","f":67.0039,"y":748.5},{"s":"170","f":67.0081,"y":747.3},{"s":"170","f":67.14,"y":747},
{"s":"144","f":66.7587,"y":572},{"s":"144","f":66.8535,"y":572.3},{"s":"144","f":66.855,"y":573.8},{"s":"144","f":66.8566,"y":579},{"s":"144","f":66.8581,"y":593.5},{"s":"144","f":66.8597,"y":623.6},{"s":"144","f":66.8612,"y":668.4},{"s":"144","f":66.8628,"y":712.3},{"s":"144","f":66.8643,"y":731},{"s":"144","f":66.8659,"y":712.3},{"s":"144","f":66.8674,"y":668.4},{"s":"144","f":66.869,"y":623.6},{"s":"144","f":66.8705,"y":593.5},{"s":"144","f":66.8721,"y":579},{"s":"144","f":66.8736,"y":573.8},{"s":"144","f":66.8752,"y":572.3},{"s":"144","f":66.8916,"y":572.3},{"s":"144","f":66.8933,"y":573.6},{"s":"144","f":66.8951,"y":578.5},{"s":"144","f":66.8968,"y":592},{"s":"144","f":66.8986,"y":620.1},{"s":"144","f":66.9003,"y":661.8},{"s":"144","f":66.9021,"y":702.6},{"s":"144","f":66.9038,"y":720},{"s":"144","f":66.9056,"y":702.6},{"s":"144","f":66.9073,"y":661.8},{"s":"144","f":66.9091,"y":620.1},{"s":"144","f":66.9108,"y":592},{"s":"144","f":66.9126,"y":578.5},{"s":"144","f":66.9143,"y":573.6},{"s":"144","f":66.9161,"y":572.3},{"s":"144","f":66.9337,"y":572.2},{"s":"144","f":66.9357,"y":573.2},{"s":"144","f":66.9377,"y":576.8},{"s":"144","f":66.9397,"y":586.9},{"s":"144","f":66.9417,"y":607.7},{"s":"144","f":66.9437,"y":638.7},{"s":"144","f":66.9457,"y":669.1},{"s":"144","f":66.9477,"y":682},{"s":"144","f":66.9497,"y":669.1},{"s":"144","f":66.9517,"y":638.8},{"s":"144","f":66.9537,"y":607.8},{"s":"144","f":66.9557,"y":587.2},{"s":"144","f":66.9577,"y":577.8},{"s":"144","f":66.9597,"y":575.8},{"s":"144","f":66.962,"y":579.1},{"s":"144","f":66.9651,"y":592.8},{"s":"144","f":66.9683,"y":622},{"s":"144","f":66.9714,"y":665.4},{"s":"144","f":66.9746,"y":707.9},{"s":"144","f":66.9777,"y":726},{"s":"144","f":66.9809,"y":707.9},{"s":"144","f":66.984,"y":665.4},{"s":"144","f":66.9872,"y":622},{"s":"144","f":66.9903,"y":592.8},{"s":"144","f":66.9935,"y":578.8},{"s":"144","f":66.9966,"y":573.7},{"s":"144","f":66.9998,"y":572.3},{"s":"144","f":67.14,"y":572},
{"s":"118","f":66.655,"y":398},{"s":"118","f":66.8697,"y":398.3},{"s":"118","f":66.8711,"y":399.4},{"s":"118","f":66.8726,"y":403.5},{"s":"118","f":66.874,"y":414.9},{"s":"118","f":66.8755,"y":438.6},{"s":"118","f":66.8769,"y":473.8},{"s":"118","f":66.8784,"y":508.3},{"s":"118","f":66.8798,"y":523},{"s":"118","f":66.8813,"y":508.3},{"s":"118","f":66.8827,"y":473.8},{"s":"118","f":66.8842,"y":438.6},{"s":"118","f":66.8856,"y":414.9},{"s":"118","f":66.8871,"y":403.5},{"s":"118","f":66.8885,"y":399.4},{"s":"118","f":66.89,"y":398.3},{"s":"118","f":66.9127,"y":398.3},{"s":"118","f":66.9154,"y":399.3},{"s":"118","f":66.9182,"y":403.1},{"s":"118","f":66.9209,"y":413.6},{"s":"118","f":66.9237,"y":435.3},{"s":"118","f":66.9264,"y":467.8},{"s":"118","f":66.9292,"y":499.5},{"s":"118","f":66.9319,"y":513},{"s":"118","f":66.9347,"y":499.6},{"s":"118","f":66.9374,"y":468.4},{"s":"118","f":66.9402,"y":439},{"s":"118","f":66.9432,"y":428.1},{"s":"118","f":66.9456,"y":442.2},{"s":"118","f":66.9479,"y":472.5},{"s":"118","f":66.9503,"y":504.3},{"s":"118","f":66.9526,"y":518.2},{"s":"118","f":66.955,"y":504.2},{"s":"118","f":66.9573,"y":471.9},{"s":"118","f":66.9597,"y":440.2},{"s":"118","f":66.962,"y":422.2},{"s":"118","f":66.9644,"y":421.3},{"s":"118","f":66.9667,"y":434.5},{"s":"118","f":66.9691,"y":460},{"s":"118","f":66.9715,"y":492.6},{"s":"118","f":66.9748,"y":535.7},{"s":"118","f":66.9781,"y":554},{"s":"118","f":66.9814,"y":535.7},{"s":"118","f":66.9847,"y":492.6},{"s":"118","f":66.988,"y":448.7},{"s":"118","f":66.9913,"y":419.1},{"s":"118","f":66.9946,"y":404.9},{"s":"118","f":66.9979,"y":399.7},{"s":"118","f":67.0012,"y":398.3},{"s":"118","f":67.14,"y":398},
{"s":"105","f":66.655,"y":223},{"s":"105","f":66.8739,"y":223.3},{"s":"105","f":66.8758,"y":224.4},{"s":"105","f":66.8777,"y":228.4},{"s":"105","f":66.8796,"y":239.6},{"s":"105","f":66.8815,"y":262.9},{"s":"105","f":66.8834,"y":297.6},{"s":"105","f":66.8853,"y":331.5},{"s":"105","f":66.8872,"y":346},{"s":"105","f":66.8891,"y":331.5},{"s":"105","f":66.891,"y":297.6},{"s":"105","f":66.8929,"y":262.9},{"s":"105","f":66.8948,"y":239.6},{"s":"105","f":66.8967,"y":228.4},{"s":"105","f":66.8986,"y":224.4},{"s":"105","f":66.9005,"y":223.3},{"s":"105","f":66.9313,"y":223.3},{"s":"105","f":66.9337,"y":224.3},{"s":"105","f":66.9361,"y":228.2},{"s":"105","f":66.9385,"y":239.1},{"s":"105","f":66.9409,"y":261.9},{"s":"105","f":66.9433,"y":297.2},{"s":"105","f":66.9457,"y":336.6},{"s":"105","f":66.9481,"y":367.2},{"s":"105","f":66.9505,"y":383},{"s":"105","f":66.9529,"y":384.7},{"s":"105","f":66.9553,"y":372.6},{"s":"105","f":66.9577,"y":344.8},{"s":"105","f":66.9601,"y":308.8},{"s":"105","f":66.9625,"y":279.5},{"s":"105","f":66.9649,"y":269.5},{"s":"105","f":66.9673,"y":279.3},{"s":"105","f":66.9697,"y":302.5},{"s":"105","f":66.9721,"y":330.4},{"s":"105","f":66.9749,"y":357.4},{"s":"105","f":66.9777,"y":368},{"s":"105","f":66.9813,"y":351},{"s":"105","f":66.9849,"y":310.9},{"s":"105","f":66.9885,"y":270.1},{"s":"105","f":66.9921,"y":242.6},{"s":"105","f":66.9957,"y":229.4},{"s":"105","f":66.9993,"y":224.6},{"s":"105","f":67.0029,"y":223.3},{"s":"105","f":67.14,"y":223}
],
"fr":[
{"s":"10","f":66.655,"y":46},{"s":"10","f":66.7088,"y":46.3},{"s":"10","f":66.7103,"y":47.5},{"s":"10","f":66.7118,"y":52},{"s":"10","f":66.7133,"y":64.4},{"s":"10","f":66.7148,"y":90.2},{"s":"10","f":66.7163,"y":128.5},{"s":"10","f":66.7178,"y":166},{"s":"10","f":66.7193,"y":182},{"s":"10","f":66.7208,"y":166},{"s":"10","f":66.7223,"y":128.5},{"s":"10","f":66.7238,"y":90.2},{"s":"10","f":66.7253,"y":64.4},{"s":"10","f":66.7268,"y":52},{"s":"10","f":66.7283,"y":47.5},{"s":"10","f":66.7298,"y":46.3},{"s":"10","f":66.738,"y":46.3},{"s":"10","f":66.7395,"y":47.5},{"s":"10","f":66.741,"y":52},{"s":"10","f":66.7425,"y":64.5},{"s":"10","f":66.744,"y":90.5},{"s":"10","f":66.7455,"y":129.1},{"s":"10","f":66.747,"y":166.9},{"s":"10","f":66.7485,"y":183},{"s":"10","f":66.75,"y":166.9},{"s":"10","f":66.7515,"y":129.1},{"s":"10","f":66.753,"y":90.5},{"s":"10","f":66.7545,"y":64.5},{"s":"10","f":66.756,"y":52},{"s":"10","f":66.7575,"y":47.5},{"s":"10","f":66.759,"y":46.3},{"s":"10","f":66.9615,"y":46}
]
},
"encoding":{
 "x":{"field":"f","type":"quantitative","scale":{"domain":[66.6594,67.1304],"nice":false,"zero":false},
  "axis":{"values":[66.7,66.75,66.8,66.85,66.9,66.95,67,67.05,67.1],
   "labelExpr":"abs(datum.value*10-round(datum.value*10))<0.001 ? format(datum.value,'.1f') : ''",
   "tickSize":{"condition":{"test":"abs(datum.value*10-round(datum.value*10))<0.001","value":-20},"value":-9},
   "tickWidth":3,"tickColor":"black","domain":false,"grid":false,
   "labelFontSize":50,"labelColor":"black","labelPadding":86,"labelBaseline":"alphabetic","labelFlush":false,"labelOverlap":false,
   "title":"(MHz)","titleFontSize":65,"titleFontWeight":"normal","titleColor":"black","titleAlign":"left","titleBaseline":"alphabetic","titleX":488,"titleY":168}},
 "y":{"field":"y","type":"quantitative","scale":{"domain":[0,1003],"nice":false,"zero":false},
  "axis":{"title":"Cl-NMR Intensity (a.u.)","domain":false,"ticks":false,"labels":false,"grid":false,"titleFontSize":67,"titleFontWeight":"normal","titleColor":"black","titleAngle":270,"titleAlign":"center","titleBaseline":"alphabetic","titleX":-53,"titleY":435}}
},
"layer":[
{"data":{"name":"comp"},
 "mark":{"type":"area","interpolate":"monotone","clip":true,"opacity":0.85},
 "encoding":{
  "y2":{"field":"b"},
  "detail":{"field":"i"},
  "color":{"field":"k","type":"nominal","scale":{"domain":["g","b","r"],"range":["#b5b5b5","#c6e5fa","#eda4a9"]},"legend":null}}},
{"data":{"values":[{"f":66.655,"y":572},{"f":66.7587,"y":572}]},
 "mark":{"type":"line","color":"#d3dde6","strokeWidth":1.2,"clip":true},
 "encoding":{}},
{"data":{"name":"pg"},
 "mark":{"type":"point","shape":"circle","filled":false,"size":72,"strokeWidth":1.8,"color":"#7f7f7f","opacity":0.85,"clip":true},
 "encoding":{}},
{"data":{"name":"pr"},
 "mark":{"type":"point","shape":"circle","filled":false,"size":72,"strokeWidth":1.9,"color":"#e3636c","opacity":0.9,"clip":true},
 "encoding":{}},
{"data":{"name":"fk"},
 "mark":{"type":"line","interpolate":"monotone","color":"black","strokeWidth":5,"strokeCap":"round","strokeJoin":"round","clip":true},
 "encoding":{"detail":{"field":"s"}}},
{"data":{"name":"fr"},
 "mark":{"type":"line","interpolate":"monotone","color":"#e0444f","strokeWidth":5,"strokeCap":"round","strokeJoin":"round","clip":true},
 "encoding":{}},
{"data":{"values":[{"t":"T","f":67.0465,"y":790},{"t":"T","f":67.0393,"y":614},{"t":"T","f":67.0393,"y":440},{"t":"T","f":67.0372,"y":257},{"t":"T","f":67.0444,"y":77}]},
 "mark":{"type":"text","align":"right","baseline":"middle","fontSize":44,"fontStyle":"italic","font":"Liberation Sans","color":"black"},
 "encoding":{"text":{"field":"t"}}},
{"data":{"values":[{"t":"= 170 K","f":67.0511,"y":790},{"t":"= 144 K","f":67.0439,"y":614},{"t":"= 118 K","f":67.0439,"y":440},{"t":"= 105 K","f":67.0418,"y":257},{"t":"= 10 K","f":67.049,"y":77}]},
 "mark":{"type":"text","align":"left","baseline":"middle","fontSize":44,"font":"Liberation Sans","color":"black"},
 "encoding":{"text":{"field":"t"}}},
{"data":{"values":[{"t":"Cl1-b","f":66.8276,"y":953},{"t":"Cl1-a","f":66.8614,"y":895}]},
 "mark":{"type":"text","align":"left","baseline":"middle","fontSize":44,"font":"Liberation Sans","color":"black"},
 "encoding":{"text":{"field":"t"}}},
{"data":{"values":[{"t":"Cl2-b","f":66.9214,"y":891},{"t":"Cl2-a","f":66.9615,"y":947}]},
 "mark":{"type":"text","align":"left","baseline":"middle","fontSize":44,"font":"Liberation Sans","color":"#1a6db3"},
 "encoding":{"text":{"field":"t"}}},
{"data":{"values":[{"t":"Nb","f":66.6734,"y":906},{"t":"Cl","f":66.7304,"y":906}]},
 "mark":{"type":"text","align":"left","baseline":"alphabetic","fontSize":80,"fontWeight":"bold","font":"Liberation Sans","color":"black"},
 "encoding":{"text":{"field":"t"}}},
{"data":{"values":[{"t":"3","f":66.7173,"y":886},{"t":"8","f":66.7634,"y":886}]},
 "mark":{"type":"text","align":"left","baseline":"alphabetic","fontSize":54,"fontWeight":"bold","font":"Liberation Sans","color":"black"},
 "encoding":{"text":{"field":"t"}}},
{"data":{"values":[{"t":"B","f":66.6793,"y":821}]},
 "mark":{"type":"text","align":"left","baseline":"alphabetic","fontSize":50,"fontStyle":"italic","font":"Liberation Sans","color":"black"},
 "encoding":{"text":{"field":"t"}}},
{"data":{"values":[{"t":"0","f":66.6924,"y":808}]},
 "mark":{"type":"text","align":"left","baseline":"alphabetic","fontSize":34,"font":"Liberation Sans","color":"black"},
 "encoding":{"text":{"field":"t"}}},
{"data":{"values":[{"t":"= 16 T","f":66.7072,"y":821}]},
 "mark":{"type":"text","align":"left","baseline":"alphabetic","fontSize":50,"font":"Liberation Sans","color":"black"},
 "encoding":{"text":{"field":"t"}}},
{"data":{"values":[{"t":"f","f":66.8496,"y":-168}]},
 "mark":{"type":"text","align":"left","baseline":"alphabetic","fontSize":65,"fontStyle":"italic","font":"Liberation Sans","color":"black"},
 "encoding":{"text":{"field":"t"}}},
{"data":{"values":[{"t":"35","f":66.6235,"y":173}]},
 "mark":{"type":"text","align":"left","baseline":"alphabetic","angle":270,"fontSize":46,"font":"Liberation Sans","color":"black"},
 "encoding":{"text":{"field":"t"}}}
]
}
